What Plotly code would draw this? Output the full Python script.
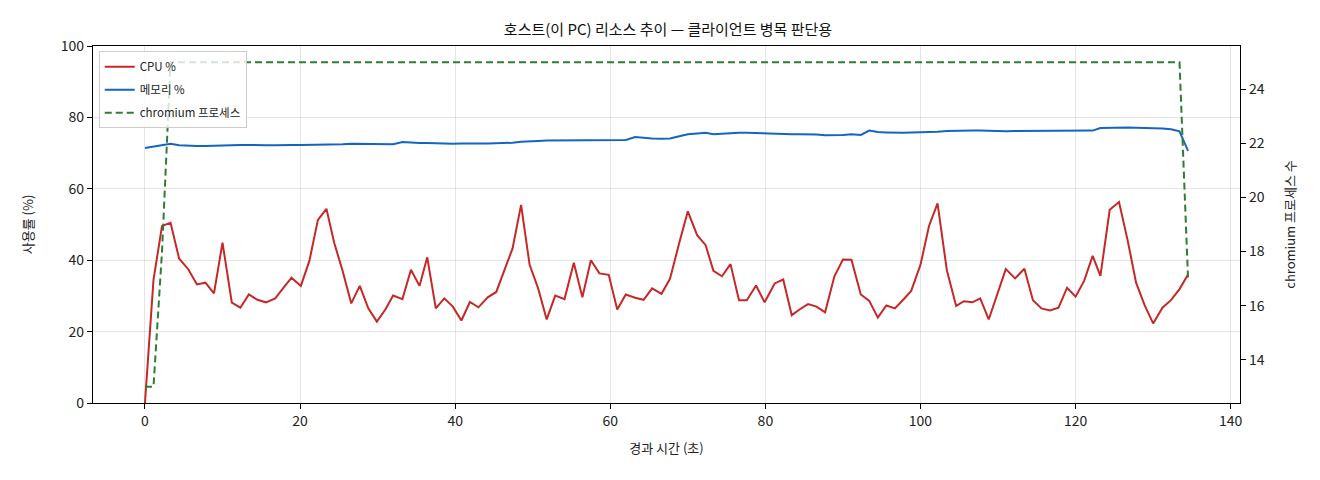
import plotly.graph_objects as go

# Host resource trend data
elapsed_sec = [
    0.0, 1.1, 2.2, 3.3, 4.4, 5.6, 6.7, 7.8, 8.9, 10.0,
    11.2, 12.3, 13.4, 14.5, 15.6, 16.8, 17.8, 18.9, 20.1, 21.2,
    22.3, 23.4, 24.4, 25.5, 26.6, 27.7, 28.8, 29.9, 31.0, 32.0,
    33.2, 34.3, 35.4, 36.4, 37.5, 38.6, 39.7, 40.8, 41.9, 43.0,
    44.2, 45.3, 46.4, 47.4, 48.5, 49.6, 50.7, 51.8, 52.9, 54.1,
    55.3, 56.4, 57.5, 58.6, 59.8, 60.9, 62.0, 63.2, 64.3, 65.4,
    66.6, 67.7, 68.9, 70.0, 71.2, 72.3, 73.3, 74.4, 75.5, 76.6,
    77.6, 78.8, 79.9, 81.2, 82.3, 83.4, 84.4, 85.5, 86.6, 87.7,
    88.9, 90.0, 91.1, 92.3, 93.4, 94.5, 95.6, 96.7, 97.8, 98.8,
    100.0, 101.1, 102.2, 103.4, 104.6, 105.6, 106.7, 107.7, 108.8, 109.9,
    111.0, 112.2, 113.4, 114.5, 115.6, 116.7, 117.8, 118.9, 120.0, 121.1,
    122.2, 123.2, 124.4, 125.6, 126.7, 127.8, 128.9, 130.0, 131.2, 132.3,
    133.4, 134.5,
]

cpu_pct = [
    0.0, 34.5, 49.6, 50.5, 40.5, 37.4, 33.2, 33.7, 30.7, 44.9,
    28.1, 26.7, 30.4, 28.9, 28.2, 29.3, 32.1, 35.1, 32.8, 39.8,
    51.3, 54.4, 44.9, 36.9, 27.9, 32.8, 26.5, 22.8, 26.2, 30.1,
    29.1, 37.3, 32.8, 40.8, 26.5, 29.3, 27.0, 23.1, 28.3, 26.8,
    29.6, 31.1, 37.5, 43.3, 55.5, 38.7, 32.1, 23.4, 30.1, 29.1,
    39.3, 29.6, 40.0, 36.3, 35.9, 26.2, 30.4, 29.5, 28.9, 32.1,
    30.6, 34.8, 44.9, 53.7, 47.0, 44.2, 37.0, 35.5, 38.9, 28.8,
    28.8, 32.9, 28.2, 33.5, 34.6, 24.6, 26.2, 27.7, 27.0, 25.4,
    35.5, 40.2, 40.1, 30.4, 28.6, 23.9, 27.3, 26.5, 29.0, 31.4,
    38.7, 49.6, 55.9, 37.2, 27.2, 28.5, 28.2, 29.3, 23.4, 30.3,
    37.5, 34.9, 37.6, 28.8, 26.5, 25.9, 26.7, 32.3, 29.8, 34.2,
    41.2, 35.6, 54.1, 56.3, 45.7, 33.7, 27.4, 22.3, 26.7, 28.8,
    31.9, 36.0,
]

mem_pct = [
    71.4, 71.8, 72.2, 72.6, 72.2, 72.0, 72.0, 72.0, 72.1, 72.2,
    72.3, 72.3, 72.3, 72.2, 72.2, 72.2, 72.3, 72.3, 72.3, 72.3,
    72.3, 72.4, 72.5, 72.5, 72.6, 72.6, 72.6, 72.6, 72.5, 72.5,
    73.1, 72.9, 72.8, 72.8, 72.7, 72.7, 72.6, 72.7, 72.6, 72.7,
    72.7, 72.7, 72.8, 72.9, 73.2, 73.2, 73.4, 73.5, 73.5, 73.5,
    73.6, 73.5, 73.6, 73.7, 73.7, 73.7, 73.7, 74.5, 74.2, 74.1,
    74.0, 74.1, 74.7, 75.3, 75.5, 75.7, 75.3, 75.5, 75.5, 75.7,
    75.7, 75.6, 75.4, 75.4, 75.3, 75.3, 75.3, 75.3, 75.2, 75.0,
    75.0, 75.1, 75.3, 75.1, 76.3, 75.9, 75.8, 75.7, 75.7, 75.8,
    75.8, 75.9, 76.0, 76.2, 76.3, 76.3, 76.3, 76.3, 76.2, 76.1,
    76.1, 76.2, 76.2, 76.2, 76.2, 76.2, 76.2, 76.2, 76.2, 76.2,
    76.3, 77.0, 77.1, 77.2, 77.2, 77.1, 77.1, 77.0, 76.9, 76.7,
    76.1, 70.6,
]

chromium_procs = [
    13, 13, 18, 25, 25, 25, 25, 25, 25, 25,
    25, 25, 25, 25, 25, 25, 25, 25, 25, 25,
    25, 25, 25, 25, 25, 25, 25, 25, 25, 25,
    25, 25, 25, 25, 25, 25, 25, 25, 25, 25,
    25, 25, 25, 25, 25, 25, 25, 25, 25, 25,
    25, 25, 25, 25, 25, 25, 25, 25, 25, 25,
    25, 25, 25, 25, 25, 25, 25, 25, 25, 25,
    25, 25, 25, 25, 25, 25, 25, 25, 25, 25,
    25, 25, 25, 25, 25, 25, 25, 25, 25, 25,
    25, 25, 25, 25, 25, 25, 25, 25, 25, 25,
    25, 25, 25, 25, 25, 25, 25, 25, 25, 25,
    25, 25, 25, 25, 25, 25, 25, 25, 25, 25,
    25, 17,
]

FONT = "Noto Sans CJK KR, Noto Sans, sans-serif"

fig = go.Figure()
fig.add_trace(go.Scatter(x=elapsed_sec, y=cpu_pct, mode='lines', name='CPU %', legendgroup='cpu',
                         line=dict(color='#c62828', width=2)))
fig.add_trace(go.Scatter(x=elapsed_sec, y=mem_pct, mode='lines', name='메모리 %', legendgroup='mem',
                         line=dict(color='#1565c0', width=2)))
fig.add_trace(go.Scatter(x=elapsed_sec, y=chromium_procs, mode='lines', name='chromium 프로세스',
                         legendgroup='chr', yaxis='y2',
                         line=dict(color='#2e7d32', width=2, dash='7px,4px')))

axis_common = dict(showline=True, linecolor='black', linewidth=1.2, ticks='outside',
                   ticklen=5, tickcolor='black', tickfont=dict(size=14, color='#222'),
                   zeroline=False)

# the page body has an 8px margin, so the margins below are shifted to compensate
fig.update_layout(
    width=1320, height=480,
    margin=dict(l=85, r=88, t=38, b=85),
    paper_bgcolor='white', plot_bgcolor='white',
    font=dict(family=FONT, color='#222'),
    title=dict(text='호스트(이 PC) 리소스 추이 — 클라이언트 병목 판단용', x=0.5, xanchor='center',
               y=0.955, yanchor='middle', font=dict(size=15, color='#111')),
    xaxis=dict(range=[-6.7, 141.2], tickvals=[0, 20, 40, 60, 80, 100, 120, 140],
               showgrid=True, gridcolor='rgba(0,0,0,0.1)', mirror=True,
               title=dict(text='경과 시간 (초)', font=dict(size=13), standoff=14),
               **axis_common),
    yaxis=dict(range=[0, 100], tickvals=[0, 20, 40, 60, 80, 100],
               showgrid=True, gridcolor='rgba(0,0,0,0.1)', mirror=True,
               title=dict(text='사용률 (%)', font=dict(size=13), standoff=24),
               **axis_common),
    yaxis2=dict(overlaying='y', side='right', range=[12.4, 25.6],
                tickvals=[14, 16, 18, 20, 22, 24], showgrid=False,
                title=dict(text='chromium 프로세스 수', font=dict(size=13), standoff=22),
                **axis_common),
    legend=dict(x=0.005, y=0.985, xanchor='left', yanchor='top',
                bgcolor='rgba(255,255,255,0.8)', bordercolor='#cccccc', borderwidth=1,
                font=dict(size=11.5), tracegroupgap=4, itemwidth=30),
    showlegend=True,
)

fig.write_html("out.html")
